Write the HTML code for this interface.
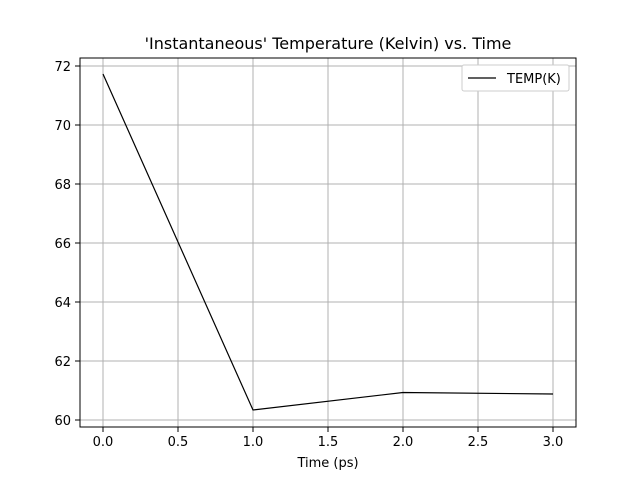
<!DOCTYPE html>
<html><head><meta charset="utf-8"><style>body{margin:0;background:#fff}svg{display:block}text{font-family:"DejaVu Sans","Liberation Sans",sans-serif;fill:#000}</style></head>
<body>
<svg width="640" height="480" viewBox="0 0 640 480" xmlns="http://www.w3.org/2000/svg">
<rect width="640" height="480" fill="#fff"/>
<g stroke="#b0b0b0" stroke-width="1">
<line x1="103" y1="58" x2="103" y2="427"/><line x1="178" y1="58" x2="178" y2="427"/><line x1="253" y1="58" x2="253" y2="427"/><line x1="328" y1="58" x2="328" y2="427"/><line x1="403" y1="58" x2="403" y2="427"/><line x1="478" y1="58" x2="478" y2="427"/><line x1="553" y1="58" x2="553" y2="427"/>
<line x1="80" y1="420" x2="576" y2="420"/><line x1="80" y1="361" x2="576" y2="361"/><line x1="80" y1="302" x2="576" y2="302"/><line x1="80" y1="243" x2="576" y2="243"/><line x1="80" y1="184" x2="576" y2="184"/><line x1="80" y1="125" x2="576" y2="125"/><line x1="80" y1="66" x2="576" y2="66"/>
</g>
<polyline fill="none" stroke="#000" stroke-width="1.2" points="103,74 253,410 403,392.5 553,394"/>
<rect x="80" y="58" width="496" height="369" fill="none" stroke="#000" stroke-width="1"/>
<g stroke="#000" stroke-width="1">
<line x1="103" y1="427" x2="103" y2="432"/><line x1="178" y1="427" x2="178" y2="432"/><line x1="253" y1="427" x2="253" y2="432"/><line x1="328" y1="427" x2="328" y2="432"/><line x1="403" y1="427" x2="403" y2="432"/><line x1="478" y1="427" x2="478" y2="432"/><line x1="553" y1="427" x2="553" y2="432"/>
<line x1="75" y1="420" x2="80" y2="420"/><line x1="75" y1="361" x2="80" y2="361"/><line x1="75" y1="302" x2="80" y2="302"/><line x1="75" y1="243" x2="80" y2="243"/><line x1="75" y1="184" x2="80" y2="184"/><line x1="75" y1="125" x2="80" y2="125"/><line x1="75" y1="66" x2="80" y2="66"/>
</g>
<g font-size="13" text-anchor="middle">
<text x="103" y="446">0.0</text><text x="178" y="446">0.5</text><text x="253" y="446">1.0</text><text x="328" y="446">1.5</text><text x="403" y="446">2.0</text><text x="478" y="446">2.5</text><text x="553" y="446">3.0</text>
</g>
<g font-size="13" text-anchor="end">
<text x="71" y="425">60</text><text x="71" y="366">62</text><text x="71" y="307">64</text><text x="71" y="248">66</text><text x="71" y="189">68</text><text x="71" y="130">70</text><text x="71" y="71">72</text>
</g>
<text x="328" y="467" font-size="13" text-anchor="middle">Time (ps)</text>
<text x="328" y="49" font-size="16" text-anchor="middle">'Instantaneous' Temperature (Kelvin) vs. Time</text>
<rect x="462" y="65" width="107" height="26" rx="2" fill="#fff" stroke="#ccc" stroke-width="1"/>
<line x1="468" y1="78" x2="496" y2="78" stroke="#000" stroke-width="1.2"/>
<text x="507" y="83" font-size="13">TEMP(K)</text>
</svg>
</body></html>
